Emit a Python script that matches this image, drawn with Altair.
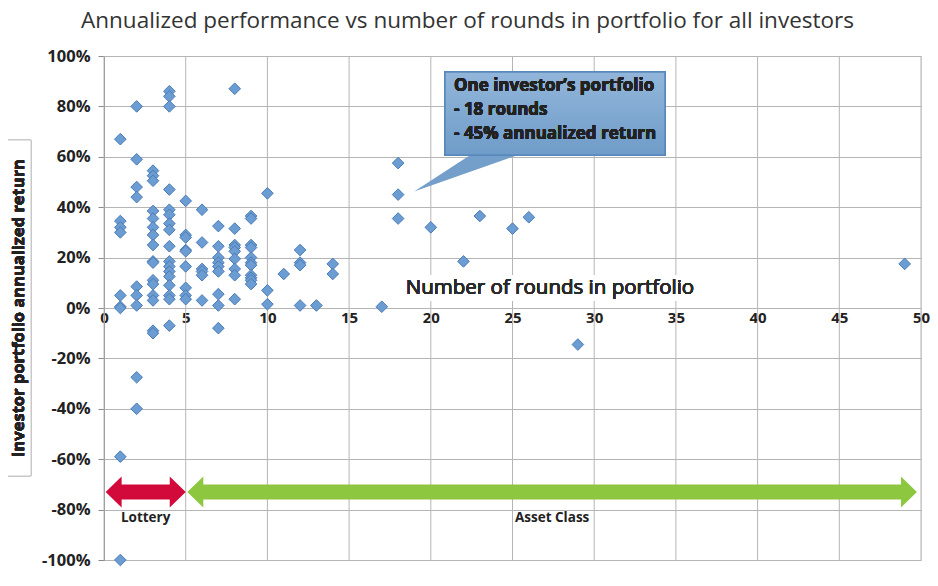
import altair as alt
import pandas as pd

# ---- data ----
rounds = (
    [1] * 9 + [2] * 9 + [3] * 16 + [4] * 17 + [5] * 9 + [6] * 6 + [7] * 9 + [8] * 9 + [9] * 11
    + [10] * 3 + [11] + [12] * 4 + [13] + [14] * 2 + [17] + [18] * 3 + [20] + [22] + [23] + [25] + [26] + [29] + [49]
)
returns = (
    [67, 34.5, 32, 30, 5, 0.5, 0, -59, -100]
    + [80, 59, 48, 44, 8.5, 5, 1, -27.5, -40]
    + [54.5, 52.5, 50.5, 38.5, 35.5, 32, 29, 25, 18.5, 18, 11, 9.5, 5, 3, -9, -10]
    + [86, 84, 80, 47, 39, 37, 33.5, 31, 24.5, 18.5, 16.5, 14.5, 12.5, 9, 5, 3.5, -7]
    + [42.5, 29, 28, 23, 22.5, 16.5, 8, 5, 3.5]
    + [39, 26, 15.5, 14.5, 13, 3]
    + [32.5, 24.5, 20, 18, 16.5, 14.5, 5.5, 1, -8]
    + [87, 31.5, 25, 24, 22.5, 19.5, 15.5, 13, 3.5]
    + [36.5, 35.5, 25, 24, 20, 18, 17, 13, 12, 11, 9.5]
    + [45.5, 7, 1.5]
    + [13.5]
    + [23, 18, 17, 1]
    + [1]
    + [17.5, 13.5]
    + [0.5]
    + [57.5, 45, 35.5]
    + [32]
    + [18.5]
    + [36.5]
    + [31.5]
    + [36]
    + [-14.5]
    + [17.5]
)

x_ticks = [0, 5, 10, 15, 20, 25, 30, 35, 40, 45, 50]
y_ticks = [-100, -80, -60, -40, -20, 0, 20, 40, 60, 80, 100]

range_labels = ["Lottery", "Asset Class"]
range_start = [0.1, 5.1]
range_end = [5.0, 49.75]
range_level = -73
range_colors = ["#d20a3c", "#8dc63f"]

highlight_rounds = [18]
highlight_return = [45]

title_text = "Annualized performance vs number of rounds in portfolio for all investors"
x_title = "Number of rounds in portfolio"
y_title = "Investor portfolio annualized return"
callout_text = "One investor\u2019s portfolio\n\u00a0- 18 rounds\n\u00a0- 45% annualized return"

# ---- chart ----
W, H = 817, 504
FONT = "Open Sans"
INK = "#222222"
GRID = "#b5b5b5"

df = pd.DataFrame({"rounds": rounds, "ret": returns})
rng = pd.DataFrame({"label": range_labels, "start": range_start, "end": range_end,
                    "level": [range_level] * 2, "color": range_colors})
tick_df = pd.DataFrame({"t": x_ticks})
hl = pd.DataFrame({"rounds": highlight_rounds, "ret": highlight_return})

xs = alt.Scale(domain=[0, 50], nice=False, zero=False)
ys = alt.Scale(domain=[-100, 100], nice=False, zero=False)

x_axis = alt.Axis(values=x_ticks, orient="bottom", offset=-(H / 2), domain=False, ticks=False,
                  grid=False, labelFont=FONT, labelFontWeight="bold", labelFontSize=15,
                  labelColor=INK, labelPadding=2, labelFlush=False, title=None)
y_axis = alt.Axis(values=y_ticks, labelExpr="datum.value + '%'", domain=True, domainColor="#8a8a8a",
                  ticks=True, tickSize=6, tickColor="#8a8a8a", labelPadding=8, grid=True,
                  gridColor=GRID, labelFont=FONT, labelFontWeight="bold", labelFontSize=16.5,
                  labelColor=INK, labelFlush=False, title=None)

vgrid = alt.Chart(tick_df).mark_rule(color=GRID, strokeWidth=1).encode(
    x=alt.X("t:Q", scale=xs, axis=x_axis),
    y=alt.value(0), y2=alt.value(H),
)

mid_y = H / 2
title_box = alt.Chart(tick_df).mark_rect(fill="white").encode(
    x=alt.value(293), x2=alt.value(600), y=alt.value(mid_y - 33), y2=alt.value(mid_y - 7)
)
title_txt = alt.Chart(tick_df).mark_text(
    text=x_title, font=FONT, fontSize=20.5, color="#2a2a2a", align="center", baseline="middle"
).encode(x=alt.value(446), y=alt.value(mid_y - 20))

points = alt.Chart(df).mark_point(
    shape="diamond", filled=True, size=135, fill="#6c9dd2", stroke="#4a7bb7",
    strokeWidth=1, opacity=1
).encode(
    x=alt.X("rounds:Q", scale=xs, axis=x_axis),
    y=alt.Y("ret:Q", scale=ys, axis=y_axis),
)

shaft = alt.Chart(rng).mark_rule(strokeWidth=15, xOffset=15, x2Offset=-15).encode(
    x=alt.X("start:Q", scale=xs), x2="end:Q",
    y=alt.Y("level:Q", scale=ys), color=alt.Color("color:N", scale=None),
)
head_l = alt.Chart(rng).mark_point(
    shape="M0,0 L1.03,-1 L1.03,1 Z", size=961, filled=True, opacity=1, strokeWidth=0
).encode(
    x=alt.X("start:Q", scale=xs), y=alt.Y("level:Q", scale=ys),
    fill=alt.Fill("color:N", scale=None),
)
head_r = alt.Chart(rng).mark_point(
    shape="M0,0 L-1.03,-1 L-1.03,1 Z", size=961, filled=True, opacity=1, strokeWidth=0
).encode(
    x=alt.X("end:Q", scale=xs), y=alt.Y("level:Q", scale=ys),
    fill=alt.Fill("color:N", scale=None),
)
range_txt = alt.Chart(rng).transform_calculate(mid="(datum.start + datum.end) / 2").mark_text(
    font=FONT, fontSize=13.5, fontWeight="bold", color=INK, dy=26
).encode(
    x=alt.X("mid:Q", scale=xs), y=alt.Y("level:Q", scale=ys), text="label:N"
)

callout_box = alt.Chart(tick_df).mark_rect(
    fill=alt.Gradient(gradient="linear", stops=[alt.GradientStop(color="#92b6da", offset=0),
                                                 alt.GradientStop(color="#6f9cc9", offset=1)],
                      x1=0, x2=0, y1=0, y2=1),
    stroke="#5a89bb", strokeWidth=1.5
).encode(x=alt.value(341), x2=alt.value(561), y=alt.value(16), y2=alt.value(99))
pointer = alt.Chart(hl).mark_point(
    shape="M0,0 L1.625,-1.06 L3,-1.06 Z", size=6400, filled=True, fill="#739fca",
    opacity=1, strokeWidth=0, xOffset=16, yOffset=-3
).encode(x=alt.X("rounds:Q", scale=xs), y=alt.Y("ret:Q", scale=ys))
callout_txt = alt.Chart(tick_df).mark_text(
    text=callout_text, lineBreak="\n", lineHeight=24, font=FONT, fontSize=17,
    fontWeight="bold", color=INK, align="left", baseline="top"
).encode(x=alt.value(350), y=alt.value(22))

ytitle_box = alt.Chart(tick_df).mark_rect(fill="white", stroke="#c8c8c8", strokeWidth=1).encode(
    x=alt.value(-97), x2=alt.value(-73), y=alt.value(mid_y - 168), y2=alt.value(mid_y + 168)
)
ytitle = alt.Chart(tick_df).mark_text(
    text=y_title, font=FONT, fontSize=16.5, fontWeight="bold", color=INK, angle=270,
    align="center", baseline="middle"
).encode(x=alt.value(-85), y=alt.value(mid_y))

chart = alt.layer(
    vgrid, title_box, title_txt, points, shaft, head_l, head_r, range_txt,
    pointer, callout_box, callout_txt, ytitle_box, ytitle
).properties(
    width=W, height=H,
    title=alt.TitleParams(title_text, anchor="middle", frame="group", dx=-45, offset=16,
                          font=FONT, fontSize=22.5, fontWeight="normal", color="#333333"),
    autosize=alt.AutoSizeParams(type="none"),
    padding={"left": 96, "top": 48, "right": 9, "bottom": 10},
).configure_view(stroke=None).configure(background="white")

chart.save("out.html", embed_options={"renderer": "svg", "actions": False})
